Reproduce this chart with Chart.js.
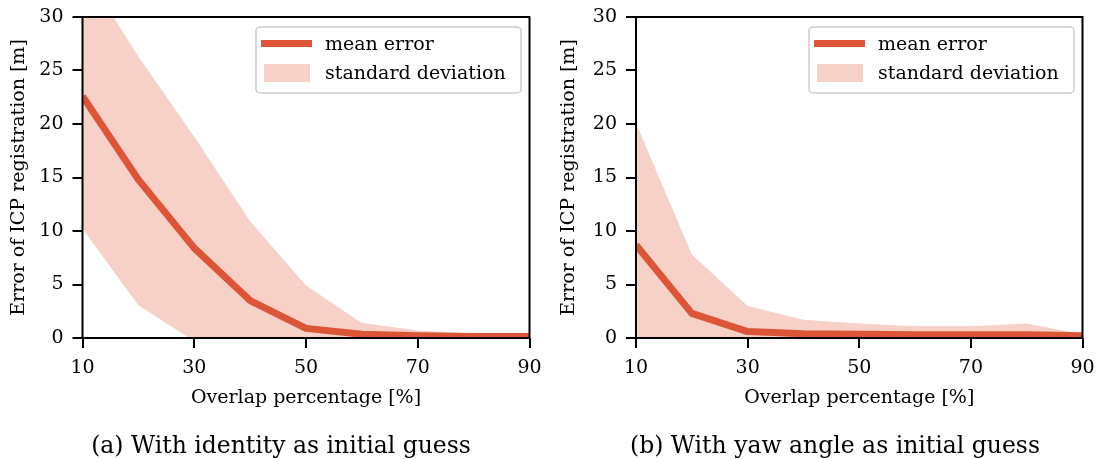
<!DOCTYPE html>
<html>
<head>
<meta charset="utf-8">
<script src="https://cdn.jsdelivr.net/npm/chart.js@4.4.1/dist/chart.umd.min.js"></script>
<style>
  html, body { margin: 0; padding: 0; background: #fff; }
  #wrap { position: relative; width: 1099px; height: 459px; overflow: hidden; }
  .panel { position: absolute; top: 0; width: 549px; height: 459px; }
  .caption { position: absolute; top: 431px; font-family: 'DejaVu Serif'; font-size: 23.5px; line-height: 28px;
             color: #000; white-space: nowrap; transform: translateX(-50%); }
</style>
</head>
<body>
<div id="wrap">
  <div class="panel" style="left:0"><canvas id="chartA" width="549" height="459"></canvas></div>
  <div class="panel" style="left:550px"><canvas id="chartB" width="549" height="459"></canvas></div>
  <div class="caption" style="left:281px">(a) With identity as initial guess</div>
  <div class="caption" style="left:835px">(b) With yaw angle as initial guess</div>
</div>
<script>
// overlap percentage
const overlap = [10, 20, 30, 40, 50, 60, 70, 80, 90];
const xTicks = [10, 30, 50, 70, 90];
const yTicks = [0, 5, 10, 15, 20, 25, 30];

// (a) identity as initial guess
const meanA  = [22.6, 14.8, 8.4, 3.5, 0.9, 0.35, 0.2, 0.15, 0.15];
const upperA = [34.6, 26.3, 18.8, 10.9, 4.9, 1.4, 0.7, 0.4, 0.35];
const lowerA = [10.2, 3.05, -0.3, 0, 0, 0, 0, 0, 0];

// (b) yaw angle as initial guess
const meanB  = [8.7, 2.3, 0.6, 0.4, 0.35, 0.3, 0.3, 0.3, 0.2];
const upperB = [20.1, 7.8, 3.0, 1.7, 1.35, 1.1, 1.1, 1.35, 0.35];
const lowerB = [0, 0, 0, 0, 0, 0, 0, 0, 0];

const legendLabels = ['mean error', 'standard deviation'];

const LINE = '#dc5537';
const BAND = '#f7d0c7';

Chart.defaults.font.family = 'DejaVu Serif';
Chart.defaults.font.size = 19;
Chart.defaults.color = '#000';

const pts = ys => overlap.map((x, i) => ({ x: x, y: ys[i] }));

// frame round the plot + legend box in the upper right corner
const framePlugin = {
  id: 'frame',
  afterDraw(chart) {
    const { ctx, chartArea: a } = chart;
    ctx.save();
    ctx.strokeStyle = '#000';
    ctx.lineWidth = 2;
    ctx.strokeRect(a.left, a.top, a.right - a.left, a.bottom - a.top);

    const w = 265, h = 66;
    const bx = a.right - 8.5 - w, by = a.top + 10;
    ctx.beginPath();
    ctx.roundRect(bx, by, w, h, 4);
    ctx.fillStyle = 'rgba(255,255,255,0.8)';
    ctx.fill();
    ctx.strokeStyle = '#cccccc';
    ctx.lineWidth = 1.5;
    ctx.stroke();

    ctx.beginPath();
    ctx.moveTo(bx + 5, by + 16.5);
    ctx.lineTo(bx + 56, by + 16.5);
    ctx.strokeStyle = LINE;
    ctx.lineWidth = 7;
    ctx.stroke();
    ctx.fillStyle = BAND;
    ctx.fillRect(bx + 8, by + 37, 46, 18);

    ctx.fillStyle = '#000';
    ctx.font = '19px "DejaVu Serif"';
    ctx.textBaseline = 'middle';
    ctx.fillText(legendLabels[0], bx + 69, by + 18);
    ctx.fillText(legendLabels[1], bx + 69, by + 47);
    ctx.restore();
  }
};

function makeChart(id, mean, upper, lower, yWidth, padRight) {
  return new Chart(document.getElementById(id), {
    type: 'line',
    data: {
      datasets: [
        { label: legendLabels[0], data: pts(mean), borderColor: LINE, borderWidth: 7,
          borderJoinStyle: 'round', pointRadius: 0, tension: 0, fill: false, clip: 0, order: 0 },
        { label: legendLabels[1], data: pts(upper), borderWidth: 0, pointRadius: 0,
          backgroundColor: BAND, fill: '+1', order: 1 },
        { label: 'lower', data: pts(lower), borderWidth: 0, pointRadius: 0, fill: false, order: 2 }
      ]
    },
    options: {
      responsive: false,
      animation: false,
      layout: { padding: { left: 0, top: 17, right: padRight, bottom: 50.6 } },
      plugins: { legend: { display: false }, tooltip: { enabled: false } },
      scales: {
        x: {
          type: 'linear', min: 10, max: 90,
          afterBuildTicks: s => { s.ticks = xTicks.map(v => ({ value: v })); },
          afterFit: s => { s.height = 70.4; s.paddingLeft = 0; s.paddingRight = 0; },
          grid: { drawOnChartArea: false, drawTicks: true, tickLength: 10, color: '#000', lineWidth: 2 },
          border: { display: false },
          ticks: { padding: 9, maxRotation: 0 },
          title: { display: true, text: 'Overlap percentage [%]', padding: { top: 0, bottom: -1 } }
        },
        y: {
          min: 0, max: 30,
          afterBuildTicks: s => { s.ticks = yTicks.map(v => ({ value: v })); },
          afterFit: s => { s.width = yWidth; s.paddingTop = 0; s.paddingBottom = 0; },
          grid: { drawOnChartArea: false, drawTicks: true, tickLength: 10, color: '#000', lineWidth: 2 },
          border: { display: false },
          ticks: { padding: 9 },
          title: { display: true, text: 'Error of ICP registration [m]', padding: { top: 8, bottom: 0 } }
        }
      }
    },
    plugins: [framePlugin]
  });
}

makeChart('chartA', meanA, upperA, lowerA, 82.5, 19.5);
makeChart('chartB', meanB, upperB, lowerB, 86, 16.5);
</script>
</body>
</html>
